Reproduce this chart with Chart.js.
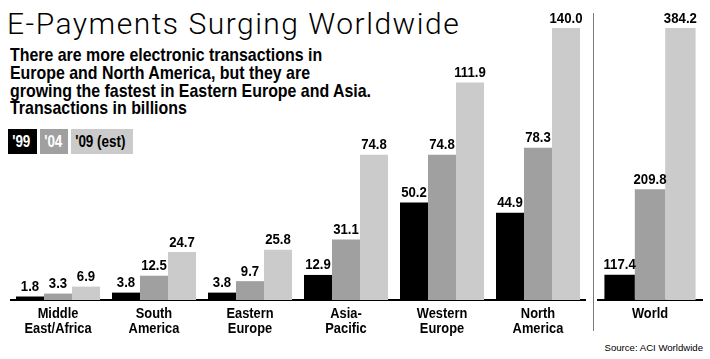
<!DOCTYPE html>
<html>
<head>
<meta charset="utf-8">
<script src="https://cdn.jsdelivr.net/npm/chart.js@4/dist/chart.umd.min.js"></script>
<style>
  html, body { margin:0; padding:0; background:#fff; }
  body { width:710px; height:359px; position:relative; overflow:hidden; }
  .abs { position:absolute; white-space:nowrap; }
  .narrow { transform:scaleX(0.86); transform-origin:0 0; }
  #title { left:7px; top:9px; font-family:Roboto, sans-serif; font-weight:300; font-size:30px; line-height:30px; letter-spacing:1.5px; color:#000; }
  #sub { left:10px; top:46px; font-family:"Liberation Sans", Arial, sans-serif; font-weight:bold; font-size:18.5px; line-height:17.8px; color:#000; }
  .leg { top:129px; height:25px; line-height:25px; box-sizing:border-box; font-family:"Liberation Sans", Arial, sans-serif; font-weight:bold; font-size:16px; overflow:hidden; }
  .leg span { display:inline-block; transform:scaleX(0.84); transform-origin:0 0; padding-left:5px; }
  #divider { left:593px; top:13px; width:1px; height:318px; background:#7a7a7a; }
  #source { right:7px; top:342px; font-family:"Liberation Sans", Arial, sans-serif; font-size:9.6px; line-height:11px; color:#000; }
  canvas { position:absolute; }
</style>
</head>
<body>
<div id="title" class="abs">E-Payments Surging Worldwide</div>
<div id="sub" class="abs narrow">There are more electronic transactions in<br>Europe and North America, but they are<br>growing the fastest in Eastern Europe and Asia.<br>Transactions in billions</div>
<div id="legend"></div>
<div id="divider" class="abs"></div>
<div id="source" class="abs">Source: ACI Worldwide</div>
<canvas id="c1" style="left:10px; top:8px;"></canvas>
<canvas id="c2" style="left:597px; top:8px;"></canvas>
<script>
// ---- data ----
const regionLabels = [["Middle","East/Africa"],["South","America"],["Eastern","Europe"],["Asia-","Pacific"],["Western","Europe"],["North","America"]];
const regions99 = [1.8, 3.8, 3.8, 12.9, 50.2, 44.9];
const regions04 = [3.3, 12.5, 9.7, 31.1, 74.8, 78.3];
const regions09 = [6.9, 24.7, 25.8, 74.8, 111.9, 140.0];
const worldLabels = [["World"]];
const world99 = [117.4];
const world04 = [209.8];
const world09 = [384.2];
const seriesNames = ["'99", "'04", "'09 (est)"];
const seriesColors = ["#000000", "#a0a0a0", "#cbcbcb"];
const seriesText = ["#ffffff", "#ffffff", "#000000"];

// ---- legend ----
const legendBoxes = [{left:8, width:29},{left:40, width:28},{left:71, width:62}];
const legend = document.getElementById('legend');
seriesNames.forEach((n, i) => {
  const d = document.createElement('div');
  d.className = 'abs leg';
  d.style.left = legendBoxes[i].left + 'px';
  d.style.width = legendBoxes[i].width + 'px';
  d.style.background = seriesColors[i];
  d.style.color = seriesText[i];
  const s = document.createElement('span');
  s.textContent = n;
  d.appendChild(s);
  legend.appendChild(d);
});

const FONT = '"Liberation Sans", Arial, sans-serif';

function narrowText(ctx, text, x, y, size, squeeze) {
  ctx.save();
  ctx.font = 'bold ' + size + 'px ' + FONT;
  ctx.fillStyle = '#000';
  ctx.textAlign = 'center';
  ctx.textBaseline = 'alphabetic';
  ctx.translate(x, y);
  ctx.scale(squeeze, 1);
  ctx.fillText(text, 0, 0);
  ctx.restore();
}

const textPlugin = {
  id: 'textPlugin',
  afterDatasetsDraw(chart) {
    const ctx = chart.ctx;
    chart.data.datasets.forEach((ds, di) => {
      const meta = chart.getDatasetMeta(di);
      meta.data.forEach((el, i) => {
        narrowText(ctx, ds.data[i].toFixed(1), el.x, el.y - 5.5, 15, 0.88);
      });
    });
    const xs = chart.scales.x;
    const base = chart.chartArea.bottom;
    chart.data.labels.forEach((lab, i) => {
      const x = xs.getPixelForTick(i);
      lab.forEach((line, j) => {
        narrowText(ctx, line, x, base + 18 + j * 15, 15.5, 0.83);
      });
    });
  }
};

function makeChart(id, labels, d99, d04, d09, yMin, yMax, catPct) {
  const cv = document.getElementById(id);
  return new Chart(cv, {
    type: 'bar',
    data: {
      labels: labels,
      datasets: [d99, d04, d09].map((d, i) => ({
        label: seriesNames[i],
        data: d,
        backgroundColor: seriesColors[i],
        borderWidth: 0,
        barPercentage: 1.0,
        categoryPercentage: catPct
      }))
    },
    options: {
      responsive: false,
      maintainAspectRatio: false,
      animation: false,
      devicePixelRatio: 1,
      layout: { padding: { top: 20, left: 0, right: 0, bottom: 0 } },
      plugins: { legend: { display: false }, title: { display: false }, tooltip: { enabled: false } },
      scales: {
        x: {
          grid: { display: false, drawTicks: false },
          border: { display: true, color: '#000', width: 2 },
          ticks: { display: false },
          afterFit: (s) => { s.height = 43; }
        },
        y: { display: false, min: yMin, max: yMax }
      }
    },
    plugins: [textPlugin]
  });
}

function sizeCanvas(id, w, h) {
  const cv = document.getElementById(id);
  cv.width = w; cv.height = h;
  cv.style.width = w + 'px'; cv.style.height = h + 'px';
}
sizeCanvas('c1', 576, 335);
sizeCanvas('c2', 106, 335);
makeChart('c1', regionLabels, regions99, regions04, regions09, 0, 140, 0.875);
makeChart('c2', worldLabels, world99, world04, world09, 90, 384.2, 0.86);
</script>
</body>
</html>
